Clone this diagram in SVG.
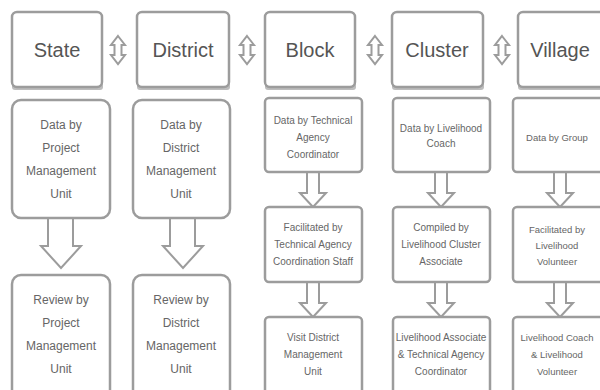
<svg xmlns="http://www.w3.org/2000/svg" width="600" height="390" viewBox="0 0 600 390">
<style>
.box{fill:#fff;stroke:#9c9c9c;stroke-width:2.5}
.sh{fill:#bdbdbd}
.hd{font-family:"Liberation Sans",Arial,sans-serif;font-size:20px;fill:#555;text-anchor:middle}
.t{font-family:"Liberation Sans",Arial,sans-serif;font-size:10px;fill:#666;text-anchor:middle}
.tv{font-family:"Liberation Sans",Arial,sans-serif;font-size:9.5px;fill:#666;text-anchor:middle}
.t2{font-family:"Liberation Sans",Arial,sans-serif;font-size:12px;fill:#666;text-anchor:middle}
.ar{fill:#fff;stroke:#9c9c9c;stroke-width:2;stroke-linejoin:miter}
</style>
<rect width="600" height="390" fill="#fff"/>
<g id="connectors">
<path class="ar" d="M118,36 L125,45 H121.5 V55 H125 L118,64 L111,55 H114.5 V45 H111 Z"/>
<path class="ar" d="M247,36 L254,45 H250.5 V55 H254 L247,64 L240,55 H243.5 V45 H240 Z"/>
<path class="ar" d="M375,36 L382,45 H378.5 V55 H382 L375,64 L368,55 H371.5 V45 H368 Z"/>
<path class="ar" d="M502,36 L509,45 H505.5 V55 H509 L502,64 L495,55 H498.5 V45 H495 Z"/>
<path class="ar" d="M48,219 V246 H41 L61,268 L81,246 H73 V219"/>
<path class="ar" d="M170,219 V246 H163 L183,268 L203,246 H195 V219"/>
<path class="ar" d="M307,173 V193 H300 L313,207 L326,193 H319 V173"/>
<path class="ar" d="M435,173 V193 H428 L441,207 L454,193 H447 V173"/>
<path class="ar" d="M554,173 V193 H547 L560,207 L573,193 H566 V173"/>
<path class="ar" d="M307,283 V303 H300 L313,317 L326,303 H319 V283"/>
<path class="ar" d="M435,283 V303 H428 L441,317 L454,303 H447 V283"/>
<path class="ar" d="M554,283 V303 H547 L560,317 L573,303 H566 V283"/>
</g>
<g id="state">
<rect class="sh" x="12" y="80" width="91" height="10" rx="3"/>
<rect class="box" x="12" y="12" width="90" height="75" rx="5"/>
<text class="hd" x="57" y="57">State</text>
</g>
<g id="district">
<rect class="sh" x="137" y="80" width="93" height="10" rx="3"/>
<rect class="box" x="137" y="12" width="92" height="75" rx="5"/>
<text class="hd" x="183" y="57">District</text>
</g>
<g id="block">
<rect class="sh" x="265" y="80" width="91" height="10" rx="3"/>
<rect class="box" x="265" y="12" width="90" height="75" rx="5"/>
<text class="hd" x="310" y="57">Block</text>
</g>
<g id="cluster">
<rect class="sh" x="392" y="80" width="92" height="10" rx="3"/>
<rect class="box" x="392" y="12" width="91" height="75" rx="5"/>
<text class="hd" x="437" y="57">Cluster</text>
</g>
<g id="village">
<rect class="sh" x="518" y="80" width="92" height="10" rx="3"/>
<rect class="box" x="518" y="12" width="92" height="75" rx="5"/>
<text class="hd" x="560" y="57">Village</text>
</g>
<g id="state-data">
<rect class="box" x="12" y="100" width="98" height="118" rx="9"/>
<text class="t2" x="61" y="129">Data by</text>
<text class="t2" x="61" y="152">Project</text>
<text class="t2" x="61" y="175">Management</text>
<text class="t2" x="61" y="198">Unit</text>
</g>
<g id="district-data">
<rect class="box" x="133" y="100" width="97" height="118" rx="9"/>
<text class="t2" x="181" y="129">Data by</text>
<text class="t2" x="181" y="152">District</text>
<text class="t2" x="181" y="175">Management</text>
<text class="t2" x="181" y="198">Unit</text>
</g>
<g id="state-review">
<rect class="box" x="12" y="275" width="98" height="125" rx="9"/>
<text class="t2" x="61" y="304">Review by</text>
<text class="t2" x="61" y="327">Project</text>
<text class="t2" x="61" y="350">Management</text>
<text class="t2" x="61" y="373">Unit</text>
</g>
<g id="district-review">
<rect class="box" x="133" y="275" width="97" height="125" rx="9"/>
<text class="t2" x="181" y="304">Review by</text>
<text class="t2" x="181" y="327">District</text>
<text class="t2" x="181" y="350">Management</text>
<text class="t2" x="181" y="373">Unit</text>
</g>
<g id="block-1">
<rect class="box" x="265" y="98" width="97" height="74" rx="4"/>
<text class="t" x="313" y="124">Data by Technical</text>
<text class="t" x="313" y="141">Agency</text>
<text class="t" x="313" y="158">Coordinator</text>
</g>
<g id="block-2">
<rect class="box" x="265" y="207" width="97" height="75" rx="4"/>
<text class="t" x="313" y="231">Facilitated by</text>
<text class="t" x="313" y="248">Technical Agency</text>
<text class="t" x="313" y="265">Coordination Staff</text>
</g>
<g id="block-3">
<rect class="box" x="265" y="317" width="97" height="80" rx="4"/>
<text class="t" x="313" y="341">Visit District</text>
<text class="t" x="313" y="358">Management</text>
<text class="t" x="313" y="375">Unit</text>
</g>
<g id="cluster-1">
<rect class="box" x="393" y="98" width="97" height="74" rx="4"/>
<text class="t" x="441" y="132">Data by Livelihood</text>
<text class="t" x="441" y="147">Coach</text>
</g>
<g id="cluster-2">
<rect class="box" x="393" y="207" width="97" height="75" rx="4"/>
<text class="t" x="441" y="231">Compiled by</text>
<text class="t" x="441" y="248">Livelihood Cluster</text>
<text class="t" x="441" y="265">Associate</text>
</g>
<g id="cluster-3">
<rect class="box" x="393" y="317" width="97" height="80" rx="4"/>
<text class="t" x="441" y="341">Livelihood Associate</text>
<text class="t" x="441" y="358">&amp; Technical Agency</text>
<text class="t" x="441" y="375">Coordinator</text>
</g>
<g id="village-1">
<rect class="box" x="513" y="98" width="97" height="74" rx="4"/>
<text class="tv" x="557" y="141">Data by Group</text>
</g>
<g id="village-2">
<rect class="box" x="513" y="207" width="97" height="75" rx="4"/>
<text class="tv" x="557" y="233">Facilitated by</text>
<text class="tv" x="557" y="249">Livelihood</text>
<text class="tv" x="557" y="265">Volunteer</text>
</g>
<g id="village-3">
<rect class="box" x="513" y="317" width="97" height="80" rx="4"/>
<text class="tv" x="557" y="341">Livelihood Coach</text>
<text class="tv" x="557" y="358">&amp; Livelihood</text>
<text class="tv" x="557" y="375">Volunteer</text>
</g>
</svg>
